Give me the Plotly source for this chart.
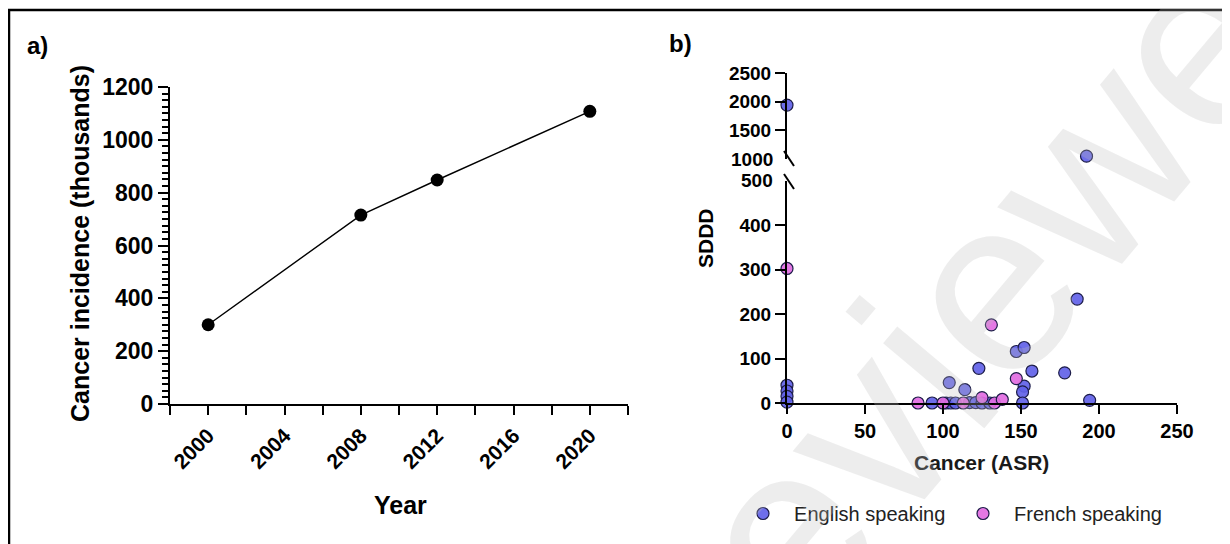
import plotly.graph_objects as go

# The page body has an 8px margin; the figure is sized/offset to fit the 1230x544 window
OFF = 8
W, H = 1230 - OFF, 544 - OFF

def fx(px):
    return (px - OFF) / W

def fy(py):
    return 1 - (py - OFF) / H

# ---------------- data ----------------
years = [2000, 2008, 2012, 2020]
incidence = [300, 715, 848, 1108]

eng_x = [0, 192, 0, 0, 0, 0, 186, 147, 152, 123, 157, 178, 152, 151, 151, 104, 114, 194,
         93, 102, 105, 108, 117, 121, 125, 130]
eng_y = [1940, 1050, 40, 27, 15, 2, 234, 116, 125, 78, 72, 68, 38, 25, 0, 46, 30, 6,
         0, 0, 0, 0, 1, 1, 0, 0]
fr_x = [0, 131, 147, 84, 100, 113, 125, 133, 138]
fr_y = [303, 176, 55, 0, 0, 0, 12, 0, 8]

year_ticks = [2000, 2004, 2008, 2012, 2016, 2020]
asr_ticks = [0, 50, 100, 150, 200, 250]
sddd_low_ticks = [0, 100, 200, 300, 400]
sddd_high_ticks = [1500, 2000, 2500]

BREAK = 1000

BOLD = "Liberation Sans"
ENG_FILL = "rgba(98,98,232,0.92)"
FR_FILL = "rgba(226,108,226,0.92)"
EDGE = "#1c1c48"
NB = "\u00a0\u00a0"

fig = go.Figure()

# Panel a
fig.add_trace(go.Scatter(
    x=years, y=incidence, mode="lines+markers",
    line=dict(color="black", width=1.4),
    marker=dict(color="black", size=13),
    xaxis="x", yaxis="y", showlegend=False, cliponaxis=False))

# Panel b - split into lower / upper segments of the broken axis
def split(xs, ys):
    lo = [(a, b) for a, b in zip(xs, ys) if b < BREAK]
    hi = [(a, b) for a, b in zip(xs, ys) if b >= BREAK]
    return lo, hi

for name, xs, ys, fill in [("English speaking", eng_x, eng_y, ENG_FILL),
                           ("French speaking", fr_x, fr_y, FR_FILL)]:
    lo, hi = split(xs, ys)
    mk = dict(color=fill, size=12, line=dict(color=EDGE, width=1.2))
    fig.add_trace(go.Scatter(
        x=[p[0] for p in lo], y=[p[1] for p in lo], mode="markers", name=NB + name,
        marker=mk, xaxis="x2", yaxis="y2", cliponaxis=False, legendgroup=name))
    if hi:
        fig.add_trace(go.Scatter(
            x=[p[0] for p in hi], y=[p[1] for p in hi], mode="markers", name=NB + name,
            marker=mk, xaxis="x2", yaxis="y3", cliponaxis=False,
            legendgroup=name, showlegend=False))

axis_common = dict(showline=True, linecolor="black", linewidth=2, ticks="outside",
                   tickcolor="black", tickwidth=2, showgrid=False, zeroline=False)

fig.update_layout(
    width=W, height=H,
    margin=dict(l=0, r=0, t=0, b=0),
    paper_bgcolor="white", plot_bgcolor="white",
    font=dict(family=BOLD, color="black"),
    xaxis=dict(domain=[fx(170), fx(628)], range=[1998, 2022], anchor="y",
               tickvals=year_ticks, ticktext=[str(v) for v in year_ticks],
               tickangle=-45, ticklen=9,
               tickfont=dict(family=BOLD, size=21, weight="bold"),
               minor=dict(dtick=2, tick0=2000, ticklen=9, tickwidth=2,
                          tickcolor="black", ticks="outside", showgrid=False),
               automargin=False, **axis_common),
    yaxis=dict(domain=[fy(404), fy(87)], range=[0, 1200], anchor="x",
               dtick=200, ticklen=10,
               tickfont=dict(family=BOLD, size=23, weight="bold"),
               minor=dict(dtick=25, ticklen=6, tickwidth=1.5, tickcolor="black",
                          ticks="outside", showgrid=False),
               automargin=False, **axis_common),
    xaxis2=dict(domain=[fx(787), fx(1177)], range=[0, 250], anchor="y2",
                tickvals=asr_ticks, ticklen=9,
                tickfont=dict(family=BOLD, size=20, weight="bold"),
                automargin=False, **axis_common),
    yaxis2=dict(domain=[fy(403), fy(181)], range=[0, 500], anchor="x2",
                tickvals=sddd_low_ticks, ticklen=10,
                tickfont=dict(family=BOLD, size=19, weight="bold"),
                automargin=False, **axis_common),
    yaxis3=dict(domain=[fy(159), fy(73)], range=[1000, 2500], anchor="x2",
                tickvals=sddd_high_ticks, ticklen=10,
                tickfont=dict(family=BOLD, size=19, weight="bold"),
                automargin=False, **axis_common),
    legend=dict(orientation="h", x=fx(743), y=fy(494), xanchor="left", yanchor="top",
                font=dict(family="Liberation Sans", size=20, color="#222"),
                bgcolor="rgba(0,0,0,0)", entrywidth=175, entrywidthmode="pixels",
                itemclick=False),
)

ann = []
def text(t, x, y, size, angle=0, bold=True, color="black", xanchor="center", yref="paper", yv=None):
    ann.append(dict(text=t, x=x, y=(fy(y) if yv is None else yv), xref="paper", yref=yref,
                    showarrow=False, textangle=angle, xanchor=xanchor, yanchor="middle",
                    font=dict(family=BOLD, size=size, color=color,
                              weight="bold" if bold else "normal")))

text("a)", fx(38), 45, 24)
text("b)", fx(680), 43, 24)
text("Cancer incidence (thousands)", fx(80), 244, 25, angle=-90)
text("Year", fx(400), 505, 25)
text("SDDD", fx(705), 238, 21, angle=-90)
text("Cancer (ASR)", fx(982), 462, 21, color="#1a1a1a")
# labels at the axis break
text("1000", fx(775), 0, 19, xanchor="right", yref="y3", yv=BREAK)
text("500", fx(775), 0, 19, xanchor="right", yref="y2", yv=500)

# watermark of the source page
ann.append(dict(text="reviewed", x=fx(1005), y=fy(268), xref="paper", yref="paper",
                xanchor="center", yanchor="middle",
                showarrow=False, textangle=-50,
                font=dict(family="Liberation Sans", size=250, color="rgba(190,190,190,0.27)")))

fig.update_layout(annotations=ann)

shapes = [
    # frame of the figure
    dict(type="line", xref="paper", yref="paper", x0=fx(9), x1=fx(9), y0=fy(10), y1=0,
         line=dict(color="black", width=2.5)),
    dict(type="line", xref="paper", yref="paper", x0=fx(8), x1=1, y0=fy(10), y1=fy(10),
         line=dict(color="black", width=2.5)),
    # axis break marks
    dict(type="line", xref="paper", yref="paper", x0=fx(784), x1=fx(794), y0=fy(151), y1=fy(166),
         line=dict(color="black", width=2)),
    dict(type="line", xref="paper", yref="paper", x0=fx(784), x1=fx(794), y0=fy(174), y1=fy(189),
         line=dict(color="black", width=2)),
]
fig.update_layout(shapes=shapes)

fig.write_html("out.html")
